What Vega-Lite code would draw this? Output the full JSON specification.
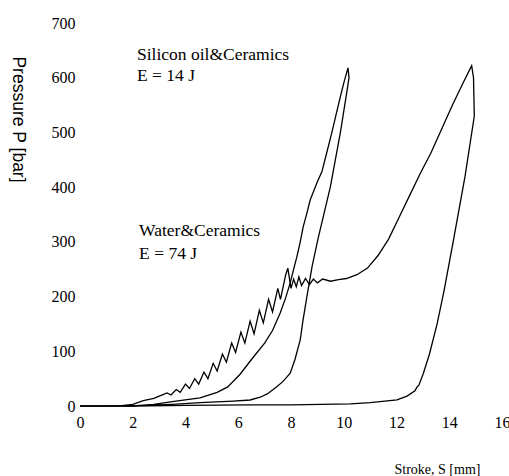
{
  "$schema": "https://vega.github.io/schema/vega-lite/v6.json",
  "width": 422,
  "height": 383,
  "autosize": {"type": "none"},
  "padding": {"left": 80, "top": 23, "right": 7, "bottom": 70},
  "background": "white",
  "config": {"view": {"stroke": null}},
  "datasets": {
    "curves": [
      {"s": "water", "i": 0, "x": 0, "y": 0},
      {"s": "water", "i": 1, "x": 1.5, "y": 0},
      {"s": "water", "i": 2, "x": 2.0, "y": 3},
      {"s": "water", "i": 3, "x": 2.4, "y": 10},
      {"s": "water", "i": 4, "x": 2.8, "y": 14},
      {"s": "water", "i": 5, "x": 3.1, "y": 20},
      {"s": "water", "i": 6, "x": 3.3, "y": 24},
      {"s": "water", "i": 7, "x": 3.45, "y": 20},
      {"s": "water", "i": 8, "x": 3.65, "y": 30},
      {"s": "water", "i": 9, "x": 3.8, "y": 25},
      {"s": "water", "i": 10, "x": 4.0, "y": 40},
      {"s": "water", "i": 11, "x": 4.15, "y": 32},
      {"s": "water", "i": 12, "x": 4.35, "y": 50},
      {"s": "water", "i": 13, "x": 4.5, "y": 40},
      {"s": "water", "i": 14, "x": 4.7, "y": 62},
      {"s": "water", "i": 15, "x": 4.85, "y": 50},
      {"s": "water", "i": 16, "x": 5.05, "y": 78},
      {"s": "water", "i": 17, "x": 5.2, "y": 64},
      {"s": "water", "i": 18, "x": 5.4, "y": 95},
      {"s": "water", "i": 19, "x": 5.55, "y": 80},
      {"s": "water", "i": 20, "x": 5.75, "y": 115},
      {"s": "water", "i": 21, "x": 5.9, "y": 98},
      {"s": "water", "i": 22, "x": 6.1, "y": 135},
      {"s": "water", "i": 23, "x": 6.25, "y": 115},
      {"s": "water", "i": 24, "x": 6.45, "y": 155},
      {"s": "water", "i": 25, "x": 6.6, "y": 132},
      {"s": "water", "i": 26, "x": 6.8, "y": 175},
      {"s": "water", "i": 27, "x": 6.95, "y": 152},
      {"s": "water", "i": 28, "x": 7.15, "y": 195},
      {"s": "water", "i": 29, "x": 7.3, "y": 172},
      {"s": "water", "i": 30, "x": 7.5, "y": 215},
      {"s": "water", "i": 31, "x": 7.6, "y": 195},
      {"s": "water", "i": 32, "x": 7.8, "y": 240},
      {"s": "water", "i": 33, "x": 7.88, "y": 252},
      {"s": "water", "i": 34, "x": 8.0, "y": 215},
      {"s": "water", "i": 35, "x": 8.1, "y": 232},
      {"s": "water", "i": 36, "x": 8.2, "y": 218},
      {"s": "water", "i": 37, "x": 8.3, "y": 236},
      {"s": "water", "i": 38, "x": 8.4, "y": 220},
      {"s": "water", "i": 39, "x": 8.55, "y": 233},
      {"s": "water", "i": 40, "x": 8.7, "y": 222},
      {"s": "water", "i": 41, "x": 8.85, "y": 232},
      {"s": "water", "i": 42, "x": 9.0, "y": 225},
      {"s": "water", "i": 43, "x": 9.2, "y": 232},
      {"s": "water", "i": 44, "x": 9.5, "y": 228},
      {"s": "water", "i": 45, "x": 9.8, "y": 231},
      {"s": "water", "i": 46, "x": 10.1, "y": 233},
      {"s": "water", "i": 47, "x": 10.5, "y": 240},
      {"s": "water", "i": 48, "x": 10.9, "y": 252},
      {"s": "water", "i": 49, "x": 11.3, "y": 275},
      {"s": "water", "i": 50, "x": 11.7, "y": 305},
      {"s": "water", "i": 51, "x": 12.1, "y": 345},
      {"s": "water", "i": 52, "x": 12.5, "y": 385},
      {"s": "water", "i": 53, "x": 12.9, "y": 425},
      {"s": "water", "i": 54, "x": 13.3, "y": 462},
      {"s": "water", "i": 55, "x": 13.7, "y": 505},
      {"s": "water", "i": 56, "x": 14.1, "y": 548},
      {"s": "water", "i": 57, "x": 14.5, "y": 588},
      {"s": "water", "i": 58, "x": 14.85, "y": 622},
      {"s": "water", "i": 59, "x": 14.92, "y": 600},
      {"s": "water", "i": 60, "x": 14.95, "y": 530},
      {"s": "water", "i": 61, "x": 14.6, "y": 420},
      {"s": "water", "i": 62, "x": 14.16, "y": 303},
      {"s": "water", "i": 63, "x": 13.8, "y": 210},
      {"s": "water", "i": 64, "x": 13.54, "y": 150},
      {"s": "water", "i": 65, "x": 13.25, "y": 95},
      {"s": "water", "i": 66, "x": 13.02, "y": 60},
      {"s": "water", "i": 67, "x": 12.85, "y": 38},
      {"s": "water", "i": 68, "x": 12.78, "y": 35},
      {"s": "water", "i": 69, "x": 12.7, "y": 28},
      {"s": "water", "i": 70, "x": 12.4, "y": 18},
      {"s": "water", "i": 71, "x": 12.02, "y": 11},
      {"s": "water", "i": 72, "x": 11.0, "y": 6},
      {"s": "water", "i": 73, "x": 10.25, "y": 4},
      {"s": "water", "i": 74, "x": 8.0, "y": 2},
      {"s": "water", "i": 75, "x": 6.45, "y": 2},
      {"s": "water", "i": 76, "x": 4.0, "y": 1},
      {"s": "water", "i": 77, "x": 2.0, "y": 0},
      {"s": "water", "i": 78, "x": 0, "y": 0},
      {"s": "silicon", "i": 0, "x": 0, "y": 0},
      {"s": "silicon", "i": 1, "x": 2.0, "y": 0},
      {"s": "silicon", "i": 2, "x": 2.8, "y": 3},
      {"s": "silicon", "i": 3, "x": 3.5, "y": 8},
      {"s": "silicon", "i": 4, "x": 4.55, "y": 15},
      {"s": "silicon", "i": 5, "x": 5.2, "y": 25},
      {"s": "silicon", "i": 6, "x": 5.6, "y": 35},
      {"s": "silicon", "i": 7, "x": 6.07, "y": 58},
      {"s": "silicon", "i": 8, "x": 6.5, "y": 85},
      {"s": "silicon", "i": 9, "x": 7.0, "y": 115},
      {"s": "silicon", "i": 10, "x": 7.3, "y": 138},
      {"s": "silicon", "i": 11, "x": 7.59, "y": 170},
      {"s": "silicon", "i": 12, "x": 7.8, "y": 198},
      {"s": "silicon", "i": 13, "x": 7.97, "y": 225},
      {"s": "silicon", "i": 14, "x": 8.1, "y": 250},
      {"s": "silicon", "i": 15, "x": 8.22, "y": 272},
      {"s": "silicon", "i": 16, "x": 8.35, "y": 300},
      {"s": "silicon", "i": 17, "x": 8.46, "y": 327},
      {"s": "silicon", "i": 18, "x": 8.6, "y": 352},
      {"s": "silicon", "i": 19, "x": 8.73, "y": 377},
      {"s": "silicon", "i": 20, "x": 9.0, "y": 410},
      {"s": "silicon", "i": 21, "x": 9.17, "y": 428},
      {"s": "silicon", "i": 22, "x": 9.35, "y": 462},
      {"s": "silicon", "i": 23, "x": 9.55, "y": 500},
      {"s": "silicon", "i": 24, "x": 9.72, "y": 535},
      {"s": "silicon", "i": 25, "x": 9.87, "y": 565},
      {"s": "silicon", "i": 26, "x": 10.0, "y": 590},
      {"s": "silicon", "i": 27, "x": 10.16, "y": 618},
      {"s": "silicon", "i": 28, "x": 10.2, "y": 600},
      {"s": "silicon", "i": 29, "x": 10.12, "y": 575},
      {"s": "silicon", "i": 30, "x": 9.87, "y": 499},
      {"s": "silicon", "i": 31, "x": 9.49, "y": 400},
      {"s": "silicon", "i": 32, "x": 9.03, "y": 307},
      {"s": "silicon", "i": 33, "x": 8.8, "y": 255},
      {"s": "silicon", "i": 34, "x": 8.6, "y": 199},
      {"s": "silicon", "i": 35, "x": 8.45, "y": 155},
      {"s": "silicon", "i": 36, "x": 8.35, "y": 121},
      {"s": "silicon", "i": 37, "x": 8.15, "y": 85},
      {"s": "silicon", "i": 38, "x": 7.97, "y": 60},
      {"s": "silicon", "i": 39, "x": 7.7, "y": 45},
      {"s": "silicon", "i": 40, "x": 7.46, "y": 35},
      {"s": "silicon", "i": 41, "x": 7.1, "y": 22},
      {"s": "silicon", "i": 42, "x": 6.83, "y": 16},
      {"s": "silicon", "i": 43, "x": 6.45, "y": 11},
      {"s": "silicon", "i": 44, "x": 5.81, "y": 9},
      {"s": "silicon", "i": 45, "x": 4.55, "y": 6},
      {"s": "silicon", "i": 46, "x": 3.5, "y": 3},
      {"s": "silicon", "i": 47, "x": 2.5, "y": 1},
      {"s": "silicon", "i": 48, "x": 1.0, "y": 0},
      {"s": "silicon", "i": 49, "x": 0, "y": 0}
    ],
    "labels": [
      {"x": 2.16, "y": 642, "t": "Silicon oil&Ceramics"},
      {"x": 2.16, "y": 603, "t": "E = 14 J"},
      {"x": 2.24, "y": 320, "t": "Water&Ceramics"},
      {"x": 2.24, "y": 278, "t": "E = 74 J"}
    ]
  },
  "layer": [
    {
      "data": {"name": "curves"},
      "mark": {"type": "line", "color": "black", "strokeWidth": 1.3},
      "encoding": {
        "x": {
          "field": "x", "type": "quantitative",
          "scale": {"domain": [0, 16], "nice": false},
          "axis": {
            "values": [0, 2, 4, 6, 8, 10, 12, 14, 16],
            "domain": false, "ticks": false, "grid": false,
            "labelFont": "Liberation Serif", "labelFontSize": 16, "labelColor": "black",
            "labelPadding": 8, "labelFlush": false,
            "title": "Stroke, S [mm]",
            "titleFont": "Liberation Serif", "titleFontSize": 14, "titleFontWeight": "normal", "titleColor": "black",
            "titleX": 357, "titleY": 63, "titleAlign": "center", "titleBaseline": "middle"
          }
        },
        "y": {
          "field": "y", "type": "quantitative",
          "scale": {"domain": [0, 700], "nice": false},
          "axis": {
            "values": [0, 100, 200, 300, 400, 500, 600, 700],
            "domain": false, "ticks": false, "grid": false,
            "labelFont": "Liberation Serif", "labelFontSize": 16, "labelColor": "black",
            "labelPadding": 5, "labelFlush": false,
            "title": "Pressure P [bar]",
            "titleFont": "Liberation Sans", "titleFontSize": 17.5, "titleFontWeight": "normal", "titleColor": "black",
            "titleAngle": 90, "titleX": -63, "titleY": 96, "titleAlign": "center", "titleBaseline": "middle"
          }
        },
        "detail": {"field": "s"},
        "order": {"field": "i", "type": "quantitative"}
      }
    },
    {
      "data": {"name": "labels"},
      "mark": {"type": "text", "align": "left", "baseline": "middle", "font": "Liberation Serif", "fontSize": 17.5, "color": "black"},
      "encoding": {
        "x": {"field": "x", "type": "quantitative"},
        "y": {"field": "y", "type": "quantitative"},
        "text": {"field": "t"}
      }
    }
  ]
}
